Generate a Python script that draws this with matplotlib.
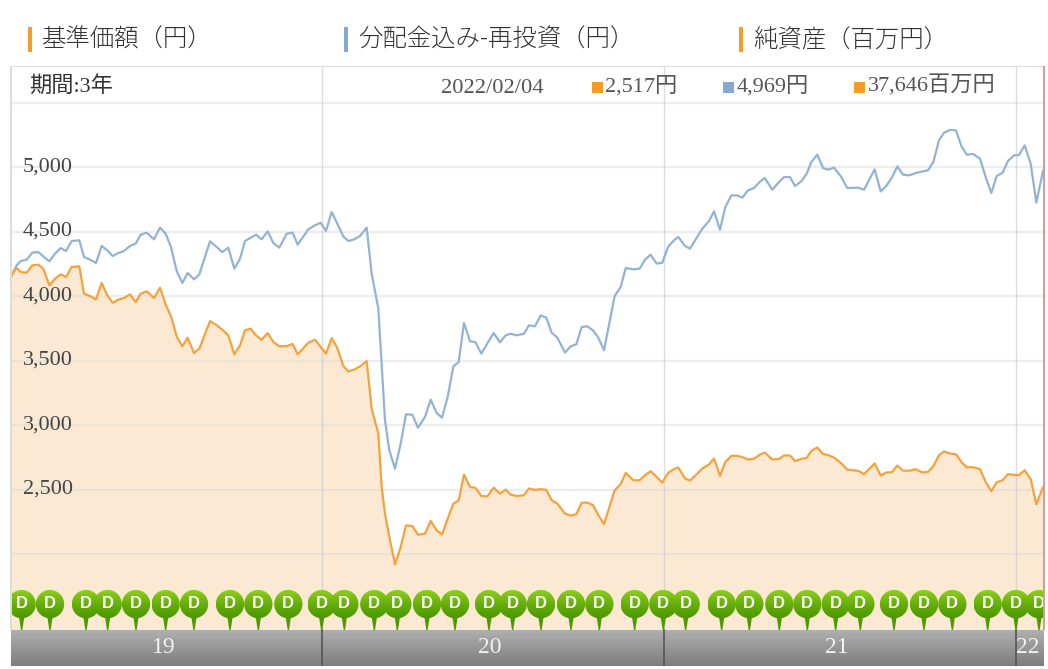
import numpy as np
import matplotlib
matplotlib.use('Agg')
import matplotlib.pyplot as plt
from matplotlib.patches import Ellipse, Rectangle

serif_jp = ['Liberation Serif', 'Noto Sans CJK JP']

# chart position of each reading, along the trading axis
t_first = [33, 50, 62, 80, 97, 115, 130, 148, 165, 182, 198, 215, 238, 252, 270, 288, 305, 322, 338, 355,
           372, 390, 407, 422, 440, 462, 480, 497, 513, 530, 547, 563, 582, 598, 630, 650, 667, 685, 703, 720,
           735, 752, 768, 785, 803, 820, 838, 860, 878, 893, 925, 945, 962, 978, 995, 1012, 1030, 1045, 1062, 1080,
           1100, 1115, 1135, 1145, 1155, 1168, 1185, 1202, 1218, 1237, 1254, 1275, 1292, 1310, 1326, 1343, 1360, 1376, 1392, 1410,
           1426, 1444, 1462, 1481, 1500, 1517, 1532, 1550]
t_second = [1572, 1587, 1605, 1622, 1639, 1655, 1672, 1695, 1712, 1729, 1745, 1762, 1779, 1794, 1812, 1844, 1862, 1877, 1900, 1919,
            1935, 1952, 1970, 1987, 2004, 2022, 2035, 2055, 2070, 2087, 2107, 2127, 2142, 2160, 2176, 2194, 2212, 2227, 2244, 2262,
            2279, 2294, 2317, 2337, 2352, 2370, 2385, 2404, 2420, 2434, 2452, 2469, 2485, 2502, 2522, 2542, 2575, 2592, 2624, 2642,
            2659, 2675, 2692, 2709, 2727, 2747, 2767, 2784, 2800, 2817, 2832, 2850, 2868, 2884, 2900, 2919, 2940, 2957, 2974, 2990,
            3008, 3024, 3042, 3057, 3074, 3092, 3109, 3129]

# 分配金込み-再投資
reinvest_first = [4147, 4238, 4271, 4282, 4336, 4341, 4307, 4269, 4328, 4372, 4349, 4426, 4432, 4302, 4282, 4256, 4388, 4354, 4310, 4333,
                  4349, 4388, 4406, 4475, 4491, 4439, 4530, 4483, 4380, 4194, 4101, 4178, 4129, 4168, 4424, 4380, 4341, 4375, 4212, 4289,
                  4426, 4452, 4475, 4439, 4501, 4411, 4375, 4483, 4491, 4398, 4517, 4548, 4568, 4504, 4651, 4561, 4462, 4426, 4439, 4465,
                  4530, 4173, 3902, 3475, 3036, 2804, 2661, 2855, 3083, 3080, 2979, 3062, 3196, 3093, 3057, 3217, 3455, 3488, 3791, 3649,
                  3643, 3553, 3633, 3713, 3641, 3695, 3708, 3695]
reinvest_second = [3708, 3773, 3765, 3850, 3832, 3716, 3677, 3561, 3610, 3625, 3760, 3765, 3734, 3682, 3579, 4000, 4070, 4217, 4207, 4212,
                   4282, 4320, 4251, 4258, 4380, 4432, 4457, 4388, 4367, 4439, 4522, 4581, 4656, 4514, 4690, 4780, 4780, 4762, 4819, 4837,
                   4884, 4915, 4824, 4884, 4922, 4922, 4853, 4889, 4948, 5039, 5096, 4992, 4979, 4995, 4930, 4837, 4840, 4824, 4982, 4811,
                   4853, 4915, 5005, 4941, 4935, 4953, 4966, 4974, 5039, 5207, 5266, 5287, 5284, 5163, 5096, 5101, 5065, 4922, 4798, 4930,
                   4956, 5047, 5090, 5093, 5168, 5026, 4724, 4969]

# 基準価額
nav_first = [4160, 4217, 4186, 4181, 4238, 4243, 4212, 4083, 4134, 4168, 4147, 4225, 4230, 4018, 4000, 3974, 4101, 4005, 3948, 3972,
             3984, 4013, 3953, 4018, 4036, 3984, 4065, 3935, 3842, 3687, 3610, 3677, 3558, 3592, 3806, 3773, 3739, 3695, 3548, 3618,
             3734, 3747, 3695, 3661, 3713, 3643, 3610, 3612, 3628, 3548, 3638, 3661, 3605, 3553, 3674, 3597, 3457, 3416, 3429, 3455,
             3496, 3127, 2933, 2519, 2313, 2132, 1920, 2054, 2222, 2217, 2150, 2158, 2256, 2183, 2152, 2274, 2390, 2416, 2615, 2519,
             2514, 2450, 2447, 2514, 2468, 2499, 2460, 2450]
nav_second = [2456, 2508, 2497, 2503, 2497, 2417, 2391, 2314, 2298, 2309, 2397, 2399, 2379, 2306, 2231, 2495, 2541, 2629, 2572, 2572,
              2611, 2642, 2598, 2554, 2629, 2658, 2671, 2585, 2570, 2611, 2663, 2694, 2740, 2606, 2714, 2761, 2761, 2751, 2733, 2738,
              2769, 2787, 2733, 2738, 2764, 2764, 2720, 2738, 2745, 2800, 2826, 2776, 2766, 2748, 2707, 2655, 2645, 2619, 2702, 2609,
              2632, 2634, 2686, 2647, 2645, 2658, 2632, 2637, 2681, 2766, 2795, 2779, 2774, 2714, 2673, 2673, 2658, 2559, 2487, 2557,
              2572, 2619, 2614, 2611, 2650, 2580, 2386, 2517]

t = np.array(t_first + t_second)
reinvest = np.array(reinvest_first + reinvest_second)
nav = np.array(nav_first + nav_second)

y_ticks = [5000, 4500, 4000, 3500, 3000, 2500]
y_grid = [5500, 5000, 4500, 4000, 3500, 3000, 2500, 2000]
year_edges = [965, 1991, 3048]
year_labels = ['19', '20', '21', '22']
year_label_t = [492, 1470, 2511, 3084]
# 分配金の印
dividend_t = [65, 150, 258, 323, 408, 497, 582, 690, 775, 865, 965, 1033, 1123, 1192, 1281, 1365, 1467, 1538,
              1623, 1713, 1798, 1904, 1990, 2057, 2165, 2248, 2338, 2422, 2507, 2581, 2682, 2772, 2857, 2963, 3048, 3117]

headers = ['基準価額（円）', '分配金込み-再投資（円）', '純資産（百万円）']
header_x = [42, 358, 753]
header_bar_x = [28, 344, 739]
header_col = ['#f59b27', '#86a9cf', '#f59b27']

ORANGE = '#f6a23c'
BLUE = '#93b3d6'
W, H = 1048, 669


def fx(px):
    return px / W


def fy(py):
    return 1 - py / H


fig = plt.figure(figsize=(W / 100, H / 100), dpi=100, facecolor='white')
ax = fig.add_axes([fx(11), fy(666), (1044 - 11) / W, (666 - 66) / H])
ax.axis('off')

T0, T1 = 33, 3132
Y_BOTTOM, Y_FLOOR, Y_TOP = 1132, 1411, 5783

ax.fill_between(t, nav, Y_FLOOR, color='#fbe9d3', lw=0, zorder=1)
for g in y_grid:
    ax.plot([T0, T1], [g, g], color='#d8d8d8', alpha=0.45, lw=1.7, zorder=2)
for e in year_edges:
    ax.plot([e, e], [Y_FLOOR, Y_TOP], color='#c8ccd2', alpha=0.65, lw=1, zorder=2)
ax.plot(t, reinvest, color=BLUE, lw=1.6, zorder=3)
ax.plot(t, nav, color=ORANGE, lw=1.6, zorder=3)

for v in y_ticks:
    ax.text(69, v - 33, f'{v:,}', family=serif_jp, fontsize=16, color='#444444',
            ha='left', va='baseline', zorder=6)

# 下の帯
grad = np.linspace(0, 1, 40).reshape(-1, 1)
ax.imshow(grad, cmap=matplotlib.colors.LinearSegmentedColormap.from_list('band', ['#afafaf', '#7e7e7e']),
          extent=[T0, T1, Y_BOTTOM, Y_FLOOR], aspect='auto', zorder=4)
for e in year_edges:
    ax.plot([e, e], [Y_BOTTOM, Y_FLOOR], color='#555555', lw=1.2, zorder=5)
for lab, lt in zip(year_labels, year_label_t):
    ax.text(lt, 1232, lab, family=serif_jp, fontsize=17, color='#f2f2f2', ha='center', va='baseline', zorder=6)

# Dのピン
pin_cmap = matplotlib.colors.LinearSegmentedColormap.from_list('pin', ['#8ed21c', '#68b00a', '#4c9600'])
pin_y = 1612
pin_w, pin_h = 85, 220
for i, d in enumerate(dividend_t):
    z = 7 + i * 0.01
    ax.fill([d - 9, d + 9, d + 2, d - 2], [1530, 1530, Y_FLOOR, Y_FLOOR], color='#4f9a02', lw=0, zorder=z)
    circ = Ellipse((d, pin_y), pin_w, pin_h, facecolor='none', edgecolor='none', transform=ax.transData)
    ax.add_patch(circ)
    im = ax.imshow(grad, cmap=pin_cmap, extent=[d - pin_w / 2, d + pin_w / 2, pin_y - pin_h / 2, pin_y + pin_h / 2],
                   aspect='auto', zorder=z)
    im.set_clip_path(circ)
    ax.text(d, pin_y + 8, 'D', family='Liberation Sans', fontweight='bold', fontsize=12, color='white',
            ha='center', va='center', zorder=z + 0.001, clip_on=True)

ax.set_xlim(T0, T1)
ax.set_ylim(Y_BOTTOM, Y_TOP)

# 枠と右端の線
fig.add_artist(Rectangle((fx(10), fy(67)), 1034 / W, 1.5 / H, color='#dcdcdc', lw=0))
fig.add_artist(Rectangle((fx(10), fy(630)), 1.5 / W, 564 / H, color='#dcdcdc', lw=0))
fig.add_artist(Rectangle((fx(1043), fy(630)), 1.6 / W, 564 / H, color='#d69a9a', lw=0))

# 見出し
for txt, x0, bx, c in zip(headers, header_x, header_bar_x, header_col):
    fig.add_artist(Rectangle((fx(bx), fy(52)), 3.5 / W, 25 / H, color=c, lw=0))
    fig.text(fx(x0), fy(47), txt, family=['Noto Sans CJK JP'], fontweight='light', fontsize=17.6,
             color='#333333', ha='left', va='baseline')

# 上段の値
fig.text(fx(29), fy(92), '期間:3年', family=serif_jp, fontsize=16, color='#333333', ha='left', va='baseline')
fig.text(fx(441), fy(93), '2022/02/04', family=serif_jp, fontsize=16.2, color='#555555', ha='left', va='baseline')
readout_text = ['2,517円', '4,969円', '37,646百万円']
readout_x = [605, 737, 868]
readout_sq = [592, 723, 854]
readout_col = ['#f59b27', '#86a9cf', '#f59b27']
for txt, x0, sq, c in zip(readout_text, readout_x, readout_sq, readout_col):
    fig.add_artist(Rectangle((fx(sq), fy(93)), 11 / W, 11 / H, color=c, lw=0))
    fig.text(fx(x0), fy(92), txt, family=serif_jp, fontsize=16, color='#555555', ha='left', va='baseline')

plt.savefig('out.png', dpi=100)
